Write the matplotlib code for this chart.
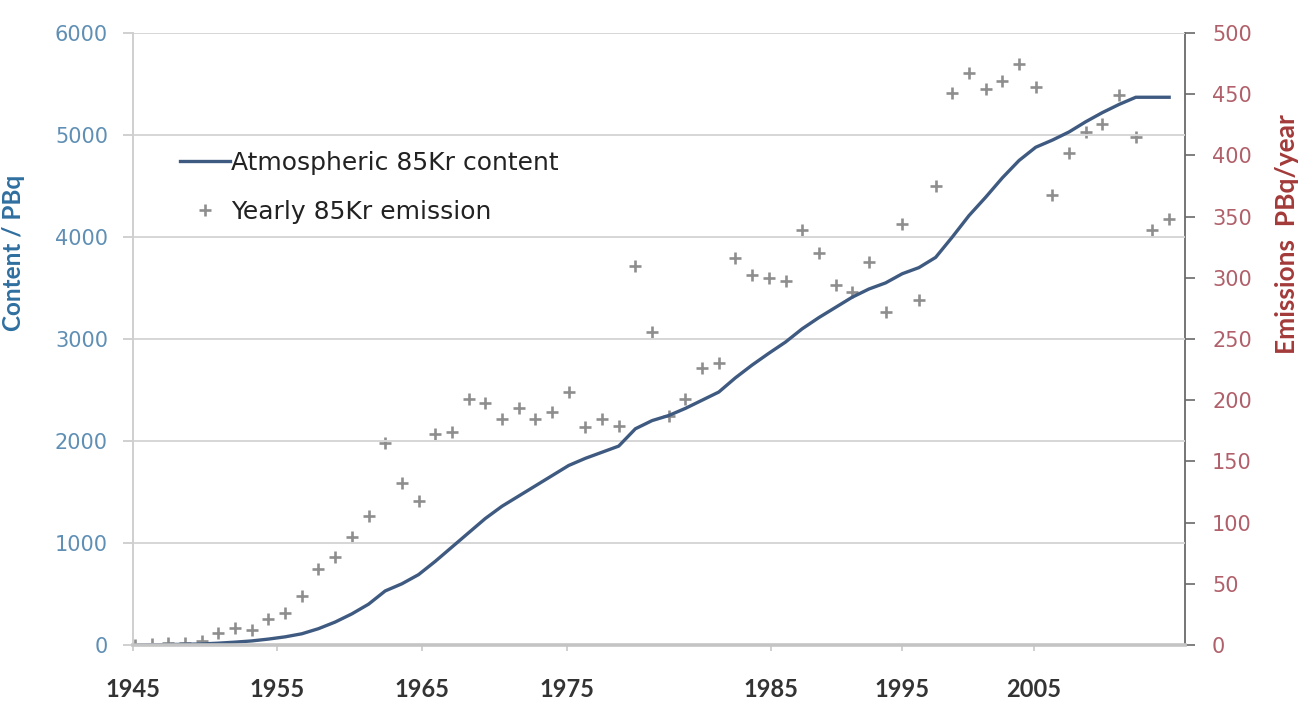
import numpy as np
import matplotlib.pyplot as plt
from matplotlib.ticker import MultipleLocator

# data
years = list(range(1945, 2008))
content = [0, 2, 4, 7, 10, 18, 28, 40, 58, 80,
           110, 160, 225, 305, 400, 530, 600, 690, 820, 960,
           1100, 1240, 1360, 1460, 1560, 1660, 1760, 1830, 1890, 1950,
           2120, 2200, 2250, 2320, 2400, 2480, 2620, 2745, 2860, 2970,
           3100, 3210, 3310, 3410, 3490, 3550, 3640, 3700, 3800, 4000,
           4210, 4390, 4580, 4750, 4880, 4950, 5030, 5130, 5220, 5300,
           5370, 5370, 5370]
emission = [0, 1, 2, 2, 3, 10, 14, 12, 21, 26,
            40, 62, 72, 88, 105, 165, 132, 118, 172, 174,
            201, 198, 185, 194, 185, 190, 207, 178, 185, 179,
            310, 256, 187, 201, 226, 230, 316, 302, 300, 297,
            339, 320, 294, 288, 313, 272, 344, 282, 375, 451,
            467, 454, 461, 475, 456, 368, 402, 419, 426, 449,
            415, 339, 348]
xtick_labels = ['1945', '1955', '1965', '1975', '1985', '1995', '2005']
# where the labels sit on the year scale in the picture
xtick_pos = [1944.9, 1953.5, 1962.2, 1970.9, 1983.1, 1991.0, 1998.9]

plt.rcParams['font.family'] = ['DejaVu Sans']

fig = plt.figure(figsize=(13.09, 7.02), dpi=100)
ax = fig.add_axes([133/1309, 57/702, (1185-133)/1309, (645-33)/702])
ax2 = ax.twinx()

# scatter behind the line
ax.set_zorder(ax2.get_zorder() + 1)
ax.patch.set_visible(False)

ax2.plot(years, emission, linestyle='None', marker='+', markersize=8,
         markeredgewidth=1.9, color='#8e8e8e', label='Yearly 85Kr emission')
ax.plot(years, content, color='#3f5a80', lw=2.4, label='Atmospheric 85Kr content')

ax.set_xlim(1944.88, 2007.95)
ax.set_ylim(0, 6000)
ax2.set_ylim(0, 500)
ax.yaxis.set_major_locator(MultipleLocator(1000))
ax2.yaxis.set_major_locator(MultipleLocator(50))
ax.set_xticks(xtick_pos)
ax.set_xticklabels(xtick_labels)

ax.grid(axis='y', color='#d6d6d6', lw=1.4)
ax.set_axisbelow(True)

for sp in ['top', 'right']:
    ax.spines[sp].set_visible(False)
for sp in ['top', 'left', 'bottom']:
    ax2.spines[sp].set_visible(False)
ax.spines['left'].set_color('#cfcfcf')
ax.spines['left'].set_linewidth(1.4)
ax.spines['bottom'].set_color('#c4c4c4')
ax.spines['bottom'].set_linewidth(2.6)
ax2.spines['right'].set_color('#6a6a6a')
ax2.spines['right'].set_linewidth(1.3)

ax.tick_params(axis='y', colors='#c8c8c8', length=7, width=1.2,
               labelcolor='#5f8fb4', labelsize=15, pad=11)
ax.tick_params(axis='x', colors='#c8c8c8', length=4, width=1.2,
               labelcolor='#333333', labelsize=17, pad=20)
for lab in ax.get_xticklabels():
    lab.set_fontweight('bold')
    lab.set_family(['Lato', 'DejaVu Sans'])
ax2.tick_params(axis='y', colors='#6a6a6a', length=7, width=1.2,
                labelcolor='#b0606a', labelsize=15, pad=12.5)

fig.text(14/1309, 1 - 253/702, 'Content / PBq', rotation=90, ha='center',
         va='center', fontsize=17.5, fontweight='bold', color='#2f6f9f',
         family=['Lato', 'DejaVu Sans'])
fig.text(1287/1309, 1 - 234/702, 'Emissions  PBq/year', rotation=90,
         ha='center', va='center', fontsize=19, fontweight='bold', color='#a33a3a',
         family=['Lato', 'DejaVu Sans'])

h1, l1 = ax.get_legend_handles_labels()
h2, l2 = ax2.get_legend_handles_labels()
fig.legend(h1 + h2, l1 + l2, loc='upper left', bbox_to_anchor=(180/1309, 1 - 151/702),
           frameon=False, fontsize=18, handlelength=2.0, handletextpad=0.05,
           labelspacing=1.0, borderpad=0, borderaxespad=0, labelcolor='#222222')

fig.savefig('out.png', dpi=100)
